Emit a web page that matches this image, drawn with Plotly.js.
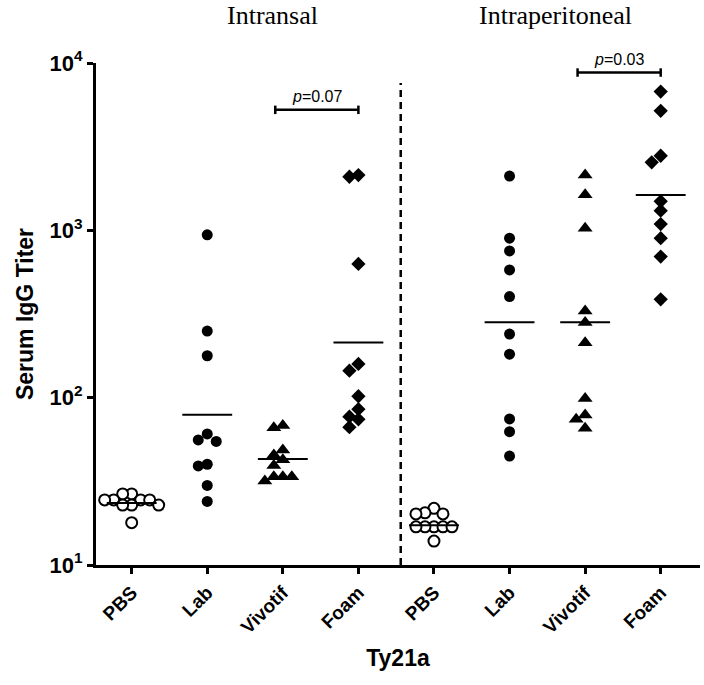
<!DOCTYPE html>
<html>
<head>
<meta charset="utf-8">
<script src="https://cdn.plot.ly/plotly-3.0.1.min.js"></script>
<style>html,body{margin:0;padding:0;background:#fff;}#chart{width:704px;height:685px;}</style>
</head>
<body>
<div id="chart"></div>
<script>
// ---- data ----
var categories = ['PBS','Lab','Vivotif','Foam','PBS','Lab','Vivotif','Foam'];
var routes = ['Intransal','Intraperitoneal'];
var inPBS  = [26.6, 26.6, 24.5, 24.5, 24.5, 24.5, 22.8, 22.8, 22.8, 17.9];
var inLab  = [940, 250, 178, 60.7, 55.9, 54.8, 40.0, 39.1, 29.9, 24.0];
var inViv  = [68.1, 66.2, 48.6, 45.4, 42.5, 39.3, 33.7, 33.7, 33.7, 31.8];
var inFoam = [2140, 2090, 630, 159, 145, 102, 85.3, 77.0, 74.2, 66.6];
var ipPBS  = [21.8, 20.5, 20.2, 20.2, 16.9, 16.9, 16.9, 16.9, 16.9, 13.9];
var ipLab  = [2110, 898, 753, 580, 402, 240, 182, 74.6, 62.6, 44.8];
var ipViv  = [2140, 1630, 1030, 330, 281, 213, 99, 78.9, 74.3, 65.6];
var ipFoam = [6750, 5180, 2790, 2550, 1490, 1310, 1090, 898, 697, 387];
var groupMeans = [23.5, 79, 43, 214, 17.3, 282, 282, 1628];
var pLabels = ['0.07', '0.03'];
var pBarY = [5250, 8770];
var pFrom = [2, 6];   // Vivotif
var pTo = [3, 7];     // Foam

var groups = [inPBS, inLab, inViv, inFoam, ipPBS, ipLab, ipViv, ipFoam];

// ---- layout geometry ----
var W = 704, H = 685;
var M = {l: 96, r: 4, t: 63, b: 120};
var xRange = [-0.472, 7.52];
var yRange = [1, 4];
var pxPerX = (W - M.l - M.r) / (xRange[1] - xRange[0]);
var pxPerDec = (H - M.t - M.b) / (yRange[1] - yRange[0]);

// deterministic beeswarm: spread overlapping points sideways
function swarm(vals, center) {
  var step = 9, minD = 8.9;
  var sorted = vals.slice().sort(function(a,b){return b-a;});
  var placed = [];
  var xs = [], ys = [];
  sorted.forEach(function(v) {
    var py = Math.log10(v) * pxPerDec;
    for (var n = 0; n < 40; n++) {
      var k = (n === 0) ? 0 : ((n % 2 === 1) ? -Math.ceil(n/2) : Math.ceil(n/2));
      var px = k * step;
      var ok = placed.every(function(p){ return Math.hypot(p[0]-px, p[1]-py) >= minD; });
      if (ok) { placed.push([px, py]); xs.push(center + px / pxPerX); ys.push(v); break; }
    }
  });
  return {x: xs, y: ys};
}

var markerStyles = [
  {symbol: 'circle', size: 11, color: 'white', line: {color: 'black', width: 2}},
  {symbol: 'circle', size: 11, color: 'black', line: {width: 0}},
  {symbol: 'triangle-up', size: 13, color: 'black', line: {width: 0}},
  {symbol: 'diamond', size: 11, color: 'black', line: {width: 0}}
];

var traces = [];
groups.forEach(function(vals, i) {
  var s = swarm(vals, i);
  traces.push({
    type: 'scatter', mode: 'markers', x: s.x, y: s.y,
    marker: markerStyles[i % 4], cliponaxis: false, hoverinfo: 'y', showlegend: false
  });
});
// mean lines
groupMeans.forEach(function(m, i) {
  traces.push({
    type: 'scatter', mode: 'lines', x: [i - 0.33, i + 0.33], y: [m, m],
    line: {color: 'black', width: 2}, showlegend: false, hoverinfo: 'skip'
  });
});
// divider
traces.push({
  type: 'scatter', mode: 'lines', x: [3.56, 3.56], y: [10, 7600],
  line: {color: 'black', width: 2.5, dash: '7px,5px'}, showlegend: false, hoverinfo: 'skip', cliponaxis: false
});
// significance brackets
var annotations = [];
pLabels.forEach(function(lbl, j) {
  var a = pFrom[j] - 0.1, b = pTo[j], y = pBarY[j], c = 1.06;
  traces.push({
    type: 'scatter', mode: 'lines',
    x: [a, a, null, a, b, null, b, b],
    y: [y / c, y * c, null, y, y, null, y / c, y * c],
    line: {color: 'black', width: 2.5}, showlegend: false, hoverinfo: 'skip', cliponaxis: false
  });
  annotations.push({
    x: (a + b) / 2, y: Math.log10(y), xref: 'x', yref: 'y', yanchor: 'bottom', yshift: 3,
    text: '<i>p</i>=' + lbl, showarrow: false,
    font: {family: 'Liberation Sans, Arial, sans-serif', size: 16, color: 'black'}
  });
});
// route titles
var routeX = [0.293, 0.76];
routes.forEach(function(r, j) {
  annotations.push({
    x: routeX[j], y: 1.094, xref: 'paper', yref: 'paper', xanchor: 'center', yanchor: 'middle',
    text: r, showarrow: false,
    font: {family: 'Liberation Serif, Times New Roman, serif', size: 26, color: 'black'}
  });
});

var boldFont = function(sz) { return {family: 'Liberation Sans, Arial, sans-serif', size: sz, color: 'black', weight: 'bold'}; };

var layout = {
  width: W, height: H, margin: M,
  paper_bgcolor: 'white', plot_bgcolor: 'white',
  xaxis: {
    range: xRange, showgrid: false, zeroline: false,
    showline: true, linecolor: 'black', linewidth: 3,
    ticks: 'outside', ticklen: 6, tickwidth: 3, tickcolor: 'black',
    tickvals: categories.map(function(_, i){ return i; }), ticktext: categories,
    tickangle: -45, tickfont: boldFont(19),
    title: {text: 'Ty21a', font: boldFont(23), standoff: 14}
  },
  yaxis: {
    type: 'log', range: yRange, showgrid: false, zeroline: false,
    showline: true, linecolor: 'black', linewidth: 3,
    ticks: 'outside', ticklen: 6, tickwidth: 3, tickcolor: 'black',
    tickvals: [10, 100, 1000, 10000],
    ticktext: ['10<sup>1</sup>', '10<sup>2</sup>', '10<sup>3</sup>', '10<sup>4</sup>'],
    tickfont: boldFont(22),
    title: {text: 'Serum IgG Titer', font: boldFont(23), standoff: 10}
  },
  annotations: annotations
};

Plotly.newPlot('chart', traces, layout, {displayModeBar: false, staticPlot: true});
</script>
</body>
</html>
